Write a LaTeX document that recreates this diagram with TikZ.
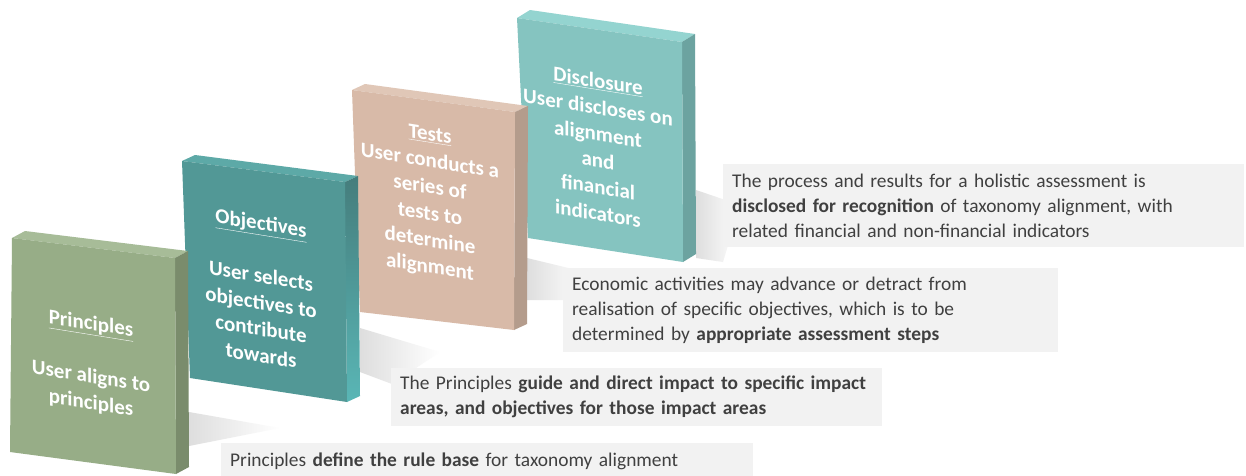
\documentclass[tikz,border=0pt]{standalone}
\usepackage{fontspec}
\setmainfont{Carlito}
\begin{document}
\begin{tikzpicture}[x=1pt,y=-1pt,
  slabtext/.style={text=white,font=\bfseries\fontsize{21}{26.5}\selectfont,align=center,inner sep=0pt},
  tilted/.style={yslant=-0.16,transform shape},
  notebox/.style={fill=boxgray,text=notegray,font=\fontsize{19.4}{25}\selectfont,
    align=left,anchor=north west,inner xsep=9pt,inner ysep=0pt},
  haze/.style={left color=black!13,right color=white,draw=none}]
\definecolor{boxgray}{HTML}{F2F2F2}
\definecolor{notegray}{HTML}{404040}
% slab colours: front, side, top
\definecolor{pfront}{HTML}{97AD87}\definecolor{pside}{HTML}{7A8C6C}\definecolor{ptop}{HTML}{A7BC98}
\definecolor{ofront}{HTML}{529896}\definecolor{oside}{HTML}{457D7C}\definecolor{otop}{HTML}{5DA9A7}
\definecolor{tfront}{HTML}{D8BAA8}\definecolor{tside}{HTML}{B49C8C}\definecolor{ttop}{HTML}{E0C7B7}
\definecolor{dfront}{HTML}{85C4C0}\definecolor{dside}{HTML}{6CA3A0}\definecolor{dtop}{HTML}{94D4D0}
\useasboundingbox (0,0) rectangle (1246,475);
\fill[white] (0,0) rectangle (1246,475);

% soft floor shadows behind the slabs
\shade[haze] (189,412) -- (280,428) -- (189,446) -- cycle;
\shade[haze] (360,328) -- (440,352) -- (392,384) -- (360,372) -- cycle;
\shade[haze] (527,258) -- (585,272) -- (563,300) -- (527,300) -- cycle;
\shade[haze] (696,190) -- (740,205) -- (723,262) -- (696,258) -- cycle;

% Disclosure slab
\fill[dtop] (517,18) -- (530,10) -- (695,34) -- (682,42) -- cycle;
\fill[dside] (682,42) -- (695,34) -- (696,254) -- (683,262) -- cycle;
\fill[dfront] (517,18) -- (682,42) -- (683,262) -- (528,238) -- cycle;
% Tests slab
\fill[ttop] (352,90) -- (365,84) -- (528,106) -- (515,112) -- cycle;
\fill[tside] (515,112) -- (528,106) -- (527,324) -- (514,330) -- cycle;
\fill[tfront] (352,90) -- (515,112) -- (514,330) -- (360,312) -- cycle;
% Objectives slab
\fill[otop] (182,161) -- (195,155) -- (358,176) -- (345,182) -- cycle;
\shade[top color=oside,bottom color=oside!70!cyan!80!white] (345,182) -- (358,176) -- (360,396) -- (347,402) -- cycle;
\fill[ofront] (182,161) -- (345,182) -- (347,402) -- (190,378) -- cycle;
% Principles slab
\fill[ptop] (12,238) -- (25,231) -- (188,251) -- (175,258) -- cycle;
\fill[pside] (175,258) -- (188,251) -- (189,467) -- (176,474) -- cycle;
\fill[pfront] (12,238) -- (175,258) -- (176,474) -- (10,452) -- cycle;

% slab captions, sheared to follow the slab faces
\begin{scope}[shift={(91,364)},tilted]
  \node[slabtext] (ptext) at (0,0)
    {\underline{Principles}\\[26.5pt] User aligns to\\ principles};
\end{scope}
\begin{scope}[shift={(261,289)},tilted]
  \node[slabtext] (otext) at (0,0)
    {\underline{Objectives}\\[26.5pt] User selects\\ objectives to\\ contribute\\ towards};
\end{scope}
\begin{scope}[shift={(430,202)},tilted]
  \node[slabtext] (ttext) at (0,0)
    {\underline{Tests}\\ User conducts a\\ series of\\ tests to\\ determine\\ alignment};
\end{scope}
\begin{scope}[shift={(598,147)},tilted]
  \node[slabtext] (dtext) at (0,0)
    {\underline{Disclosure}\\ User discloses on\\ alignment\\ and\\ financial\\ indicators};
\end{scope}

% explanatory notes
\node[notebox,text width=503pt,minimum height=83pt] (n4) at (723,164)
  {The process and results for a holistic assessment is\\
   \textbf{disclosed for recognition} of taxonomy alignment, with\\
   related financial and non-financial indicators};
\node[notebox,text width=477pt,minimum height=84pt] (n3) at (563,268)
  {Economic activities may advance or detract from\\
   realisation of specific objectives, which is to be\\
   determined by \textbf{appropriate assessment steps}};
\node[notebox,text width=473pt,minimum height=58pt] (n2) at (391,368)
  {\hyphenpenalty=10000 The Principles \textbf{guide and direct impact to specific impact}\\
   \textbf{areas, and objectives for those impact areas}};
\node[notebox,text width=514pt,minimum height=37pt] (n1) at (221,443)
  {Principles \textbf{define the rule base} for taxonomy alignment};
\end{tikzpicture}
\end{document}
